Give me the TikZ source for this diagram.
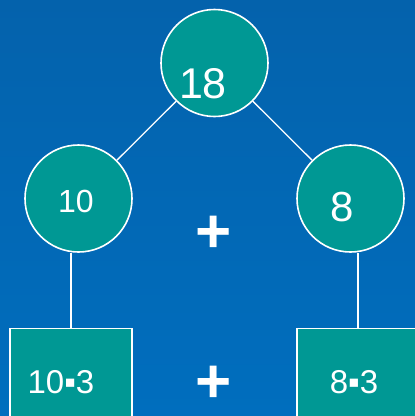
\documentclass[tikz,border=0pt]{standalone}
\usepackage{fontspec}
\setmainfont{Liberation Sans}
\definecolor{bgtop}{RGB}{4,98,172}
\definecolor{bgbot}{RGB}{0,110,190}
\definecolor{teal1}{RGB}{0,152,148}
\tikzset{
  circ/.style={circle,draw=white,line width=1.6pt,fill=teal1,minimum size=107pt,inner sep=0pt},
  sq/.style={rectangle,draw=white,line width=1.4pt,fill=teal1,minimum width=122pt,minimum height=122pt,inner sep=0pt,anchor=north},
  txt/.style={text=white,inner sep=0pt},
  edge/.style={draw=white,line width=1.3pt},
  plus/.style={text=white,inner sep=0pt,font=\bfseries\fontsize{62}{62}\selectfont}
}
\begin{document}
\begin{tikzpicture}[x=1pt,y=-1pt]
\useasboundingbox (0,0) rectangle (415,416);
\clip (0,0) rectangle (415,416);
\shade[top color=bgtop,bottom color=bgbot] (0,0) rectangle (415,416);
% circles
\node[circ] (c18) at (214.5,63) {};
\node[circ] (c10) at (78.5,198.5) {};
\node[circ] (c8) at (350.5,198.5) {};
% boxes
\node[sq] (b10) at (71,328) {};
\node[sq] (b8) at (358,328) {};
% connectors
\draw[edge] (c18) -- (c10);
\draw[edge] (c18) -- (c8);
\draw[edge] (b10.north) -- (b10.north |- c10.south);
\draw[edge] (b8.north) -- (b8.north |- c8.south);
% labels
\node[txt,font=\fontsize{43}{43}\selectfont] (t18) at (203,84) {18};
\node[txt,font=\fontsize{32}{32}\selectfont] (t10) at (76,201) {10};
\node[txt,font=\fontsize{42}{42}\selectfont] (t8) at (342,207) {8};
\node[txt,font=\fontsize{33}{33}\selectfont] (t103) at (61,382) {10▪3};
\node[txt,font=\fontsize{33}{33}\selectfont] (t83) at (354,382) {8▪3};
\node[plus] (p1) at (214,234) {+};
\node[plus] (p2) at (214,384) {+};
\end{tikzpicture}
\end{document}
